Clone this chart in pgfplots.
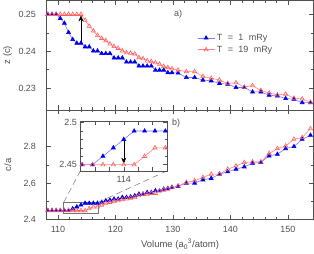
\documentclass[border=0pt]{standalone}
\usepackage{fontspec}
\setmainfont{Liberation Sans}
\usepackage{pgfplots}
\pgfplotsset{compat=1.18}
\usepackage{pgfplotstable}
\usetikzlibrary{arrows.meta}

\definecolor{mblue}{RGB}{0,0,235}
\definecolor{lblue}{RGB}{120,120,255}
\definecolor{mred}{RGB}{255,95,95}
\definecolor{lred}{RGB}{255,130,130}
\definecolor{axgray}{RGB}{80,80,80}

\pgfplotstableread{
V zb zr cb cr
108.24 0.2500 0.2500 2.450 2.450
108.96 0.2500 0.2500 2.450 2.450
109.68 0.2500 0.2500 2.450 2.450
110.40 0.2489 0.2500 2.450 2.450
111.12 0.2476 0.2500 2.450 2.450
111.84 0.2451 0.2500 2.450 2.450
112.56 0.2432 0.2500 2.460 2.450
113.28 0.2422 0.2500 2.470 2.450
114.00 0.2422 0.2500 2.480 2.450
114.72 0.2412 0.2484 2.490 2.450
115.44 0.2412 0.2468 2.490 2.460
116.16 0.2401 0.2455 2.490 2.470
116.88 0.2401 0.2443 2.490 2.470
117.60 0.2394 0.2435 2.495 2.480
118.32 0.2394 0.2429 2.504 2.490
119.04 0.2394 0.2420 2.507 2.495
119.76 0.2382 0.2413 2.513 2.500
120.48 0.2382 0.2408 2.513 2.504
121.20 0.2382 0.2401 2.522 2.510
121.92 0.2371 0.2396 2.522 2.513
122.64 0.2371 0.2395 2.525 2.518
123.36 0.2371 0.2393 2.531 2.522
124.08 0.2360 0.2383 2.540 2.531
124.80 0.2360 0.2380 2.540 2.540
125.52 0.2360 0.2374 2.549 2.540
126.24 0.2360 0.2372 2.549 2.544
126.96 0.2349 0.2369 2.558 2.544
127.68 0.2349 0.2365 2.558 2.558
128.40 0.2349 0.2359 2.567 2.562
129.12 0.2342 0.2356 2.571 2.567
129.84 0.2342 0.2353 2.577 2.575
130.90 0.2341 0.2349 2.582 2.585
132.34 0.2329 0.2345 2.600 2.604
133.78 0.2329 0.2345 2.600 2.613
135.22 0.2322 0.2332 2.618 2.631
136.66 0.2320 0.2327 2.626 2.649
138.10 0.2313 0.2322 2.649 2.649
139.54 0.2311 0.2313 2.662 2.676
140.98 0.2302 0.2315 2.676 2.694
142.42 0.2302 0.2303 2.689 2.713
143.86 0.2290 0.2307 2.709 2.716
145.30 0.2290 0.2294 2.713 2.716
146.74 0.2281 0.2287 2.749 2.762
148.18 0.2279 0.2282 2.758 2.789
149.62 0.2272 0.2284 2.789 2.803
151.06 0.2270 0.2273 2.800 2.840
152.50 0.2261 0.2271 2.840 2.849
153.94 0.2261 0.2262 2.862 2.898
}\data

\pgfplotsset{
  bluestyle/.style={color=lblue, line width=0.6pt, mark=triangle*, mark size=2.3pt,
    mark options={fill=mblue, draw=mblue, solid}},
  redstyle/.style={color=lred, line width=0.6pt, mark=triangle, mark size=2.4pt,
    mark options={draw=mred, fill=white, solid}},
  panel/.style={
    scale only axis, width=268pt, height=110pt,
    xmin=108, xmax=154.5,
    axis line style={axgray, line width=0.6pt},
    every tick/.style={axgray, line width=0.5pt},
    tick align=inside,
    major tick length=4.5pt, minor tick length=2.5pt,
    xtick={110,120,130,140,150}, minor x tick num=4,
    ticklabel style={font=\fontsize{9}{10}\selectfont, text=axgray},
    label style={font=\fontsize{9.5}{11}\selectfont, text=axgray},
    /pgf/number format/assume math mode=true,
    yticklabel style={xshift=-7pt},
    ylabel style={at={(axis description cs:-0.145,0.5)}, anchor=center},
  },
}

\begin{document}
\begin{tikzpicture}
% ---------- top panel ----------
\begin{axis}[panel, name=top, at={(0pt,110pt)}, anchor=south west,
  ymin=0.2241, ymax=0.2538, ytick={0.23,0.24,0.25}, minor y tick num=1,
  yticklabel style={/pgf/number format/fixed, /pgf/number format/precision=2, /pgf/number format/fixed zerofill},
  xticklabels={},
  ylabel={z (c)},
  legend style={at={(rel axis cs:0.56,0.72)}, anchor=north west, draw=none, fill=none,
    font=\fontsize{9}{10}\selectfont, text=axgray, row sep=0pt, inner sep=1pt},
  legend cell align=left]
\addplot[bluestyle] table[x=V, y=zb] {\data};
\addlegendentry{T\hspace{0.6em}=\hspace{0.6em}1\hspace{0.6em}mRy}
\addplot[redstyle] table[x=V, y=zr] {\data};
\addlegendentry{T\hspace{0.6em}=\hspace{0.6em}19\hspace{0.6em}mRy}
\draw[black, line width=0.5pt, -{Stealth[length=6pt,width=5pt]}] (axis cs:114,0.2424) -- (axis cs:114,0.2497);
\node[font=\fontsize{9}{10}\selectfont, text=axgray] at (rel axis cs:0.4925,0.873) {a)};
\end{axis}
% ---------- bottom panel ----------
\begin{axis}[panel, name=bot, at={(0pt,0pt)}, anchor=south west,
  ymin=2.4, ymax=3.0, ytick={2.4,2.6,2.8}, minor y tick num=1,
  yticklabel style={/pgf/number format/fixed, /pgf/number format/precision=1},
  xticklabel style={yshift=-3pt},
  xlabel={Volume (a\textsubscript{0}\textsuperscript{3}/atom)},
  xlabel style={at={(axis description cs:0.5,-0.227)}, anchor=center},
  ylabel={c/a}]
\addplot[bluestyle] table[x=V, y=cb] {\data};
\addplot[redstyle] table[x=V, y=cr] {\data};
\draw[black!55, line width=0.5pt] (axis cs:111,2.435) rectangle (axis cs:117,2.495);
\coordinate (rl) at (axis cs:111,2.495);
\coordinate (rr) at (axis cs:117,2.495);
\node[font=\fontsize{9}{10}\selectfont, text=axgray] at (rel axis cs:0.485,0.882) {b)};
\end{axis}
% ---------- inset ----------
\draw[black!55, line width=0.5pt, dash pattern=on 6pt off 4pt] (rl) -- (34pt,49pt);
\draw[black!55, line width=0.5pt, dash pattern=on 6pt off 4pt] (rr) -- (121pt,49pt);
\begin{axis}[name=inset, at={(34pt,49pt)}, anchor=south west,
  scale only axis, width=87pt, height=50pt,
  xmin=111, xmax=117, ymin=2.4427, ymax=2.502,
  axis background/.style={fill=white},
  axis line style={axgray, line width=0.6pt},
  every tick/.style={axgray, line width=0.5pt},
  tick align=inside, major tick length=4pt, minor tick length=2.5pt,
  xtick={112,113,114,115,116}, xticklabels={,,114,,},
  ytick={2.45,2.5}, minor y tick num=4,
  yticklabels={2.45,2.5},
  ticklabel style={font=\fontsize{9}{10}\selectfont, text=axgray},
  xticklabel style={yshift=-2pt},
  /pgf/number format/assume math mode=true]
\addplot[bluestyle] table[x=V, y=cb] {\data};
\addplot[redstyle] table[x=V, y=cr] {\data};
\draw[black, line width=0.5pt, -{Stealth[length=6pt,width=5pt]}] (axis cs:114,2.4795) -- (axis cs:114,2.4512);
\end{axis}
\end{tikzpicture}
\end{document}
